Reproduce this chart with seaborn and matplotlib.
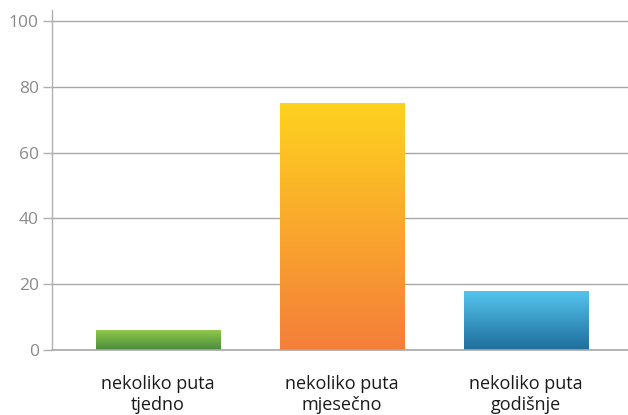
import numpy as np
import pandas as pd
import matplotlib
matplotlib.use("Agg")
import matplotlib.pyplot as plt
import seaborn as sns
from matplotlib.colors import LinearSegmentedColormap

categories = ["nekoliko puta\ntjedno", "nekoliko puta\nmjesečno", "nekoliko puta\ngodišnje"]
values = [6, 75, 18]
top_colors = ["#8fc84a", "#fed21e", "#55c6ee"]
bottom_colors = ["#4a8a3e", "#f47e3a", "#1f6d9c"]
yticks = [0, 20, 40, 60, 80, 100]

sns.set_theme(style="white")
plt.rcParams["font.family"] = ["Open Sans", "DejaVu Sans"]

fig = plt.figure(figsize=(6.28, 4.15), dpi=100)
ax = fig.add_axes([52/628, 65/415, 1 - 52/628, (350 - 10)/415])

df = pd.DataFrame({"cat": categories, "val": values})
sns.barplot(data=df, x="cat", y="val", ax=ax, width=0.674, color="white", saturation=1)

ax.set_xlim(-0.576, 2.554)
ax.set_ylim(0, 103.4)

for patch, tc, bc in zip(ax.patches, top_colors, bottom_colors):
    x0, y0 = patch.get_x(), patch.get_y()
    w, h = patch.get_width(), patch.get_height()
    cmap = LinearSegmentedColormap.from_list("g", [bc, tc])
    grad = np.linspace(0, 1, 256).reshape(-1, 1)
    im = ax.imshow(grad, extent=[x0, x0 + w, y0, y0 + h], origin="lower",
                   aspect="auto", cmap=cmap, zorder=3)
    im.set_clip_path(patch)
    patch.set_edgecolor("none")

ax.set_yticks(yticks)
ax.yaxis.grid(True, color="#a8a8a8", linewidth=1)
ax.set_axisbelow(True)
ax.axhline(0, color="#a8a8a8", linewidth=1.2, zorder=4, clip_on=False)
for s in ["top", "right", "bottom"]:
    ax.spines[s].set_visible(False)
ax.spines["left"].set_color("#b0b0b0")
ax.spines["left"].set_linewidth(1)
ax.tick_params(axis="y", left=True, length=6.5, width=1, color="#b0b0b0",
               labelsize=12.5, labelcolor="#8a8a8a", pad=3)
ax.tick_params(axis="x", bottom=False, labelsize=13, labelcolor="#1a1a1a", pad=12)
ax.set_xlabel("")
ax.set_ylabel("")
for lab in ax.get_xticklabels():
    lab.set_linespacing(1.2)

fig.savefig("out.png", dpi=100)
